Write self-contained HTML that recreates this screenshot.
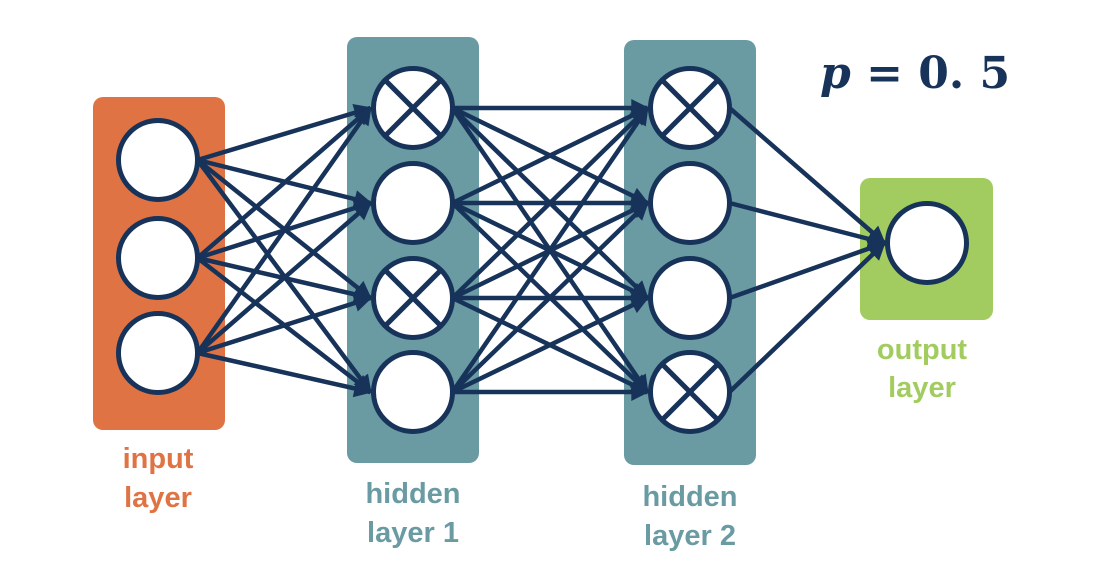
<!DOCTYPE html>
<html><head><meta charset="utf-8"><style>
body{margin:0;background:#fff;width:1102px;height:564px;overflow:hidden}
svg{display:block}
.l{font-family:"Liberation Sans",sans-serif;font-weight:bold;font-size:29px;text-anchor:middle}
</style></head><body>
<svg id="s" width="1102" height="564" viewBox="0 0 1102 564">
<defs><marker id="a" viewBox="0 0 10 10" refX="9" refY="5" markerWidth="4.5" markerHeight="4" orient="auto" markerUnits="strokeWidth"><path d="M0,0L10,5L0,10z" fill="#17335a"/></marker></defs>
<rect x="93" y="97" width="132" height="333" rx="10" fill="#e07343"/>
<rect x="347" y="37" width="132" height="426" rx="10" fill="#6a9ba3"/>
<rect x="624" y="40" width="132" height="425" rx="10" fill="#6a9ba3"/>
<rect x="860" y="178" width="133" height="142" rx="10" fill="#a2cc5f"/>
<g id="g"></g>
<text class="l" x="158" y="468" fill="#e07343">input</text>
<text class="l" x="158" y="507" fill="#e07343">layer</text>
<text class="l" x="413" y="503" fill="#6a9ba3">hidden</text>
<text class="l" x="413" y="542" fill="#6a9ba3">layer 1</text>
<text class="l" x="690" y="506" fill="#6a9ba3">hidden</text>
<text class="l" x="690" y="545" fill="#6a9ba3">layer 2</text>
<text class="l" x="922" y="359" fill="#a2cc5f">output</text>
<text class="l" x="922" y="397" fill="#a2cc5f">layer</text>
<text x="820" y="88" font-family="'DejaVu Serif',serif" font-weight="bold" font-size="44" fill="#17335a"><tspan font-style="italic">p</tspan> = 0. 5</text>
</svg>
<script>
var L=[[158,[160,258,353],[]],[413,[108,203,298,392],[0,2]],[690,[108,203,298,392],[0,3]],[927,[243],[]]];
var r=39.5,h='',c='#17335a';
for(var i=0;i<3;i++){var A=L[i],B=L[i+1];for(var a of A[1])for(var b of B[1]){
h+='<line x1="'+(A[0]+r)+'" y1="'+a+'" x2="'+(B[0]-r-3)+'" y2="'+b+'" stroke="'+c+'" stroke-width="4.5" marker-end="url(#a)"/>';}}
L.forEach(function(l){l[1].forEach(function(y,k){h+='<circle cx="'+l[0]+'" cy="'+y+'" r="'+r+'" fill="#fff" stroke="'+c+'" stroke-width="5"/>';
if(l[2].indexOf(k)>=0){var q=r*0.707;h+='<path d="M'+(l[0]-q)+','+(y-q)+'L'+(l[0]+q)+','+(y+q)+'M'+(l[0]+q)+','+(y-q)+'L'+(l[0]-q)+','+(y+q)+'" stroke="'+c+'" stroke-width="5"/>';}});});
document.getElementById('g').innerHTML=h;
</script>
</body></html>
